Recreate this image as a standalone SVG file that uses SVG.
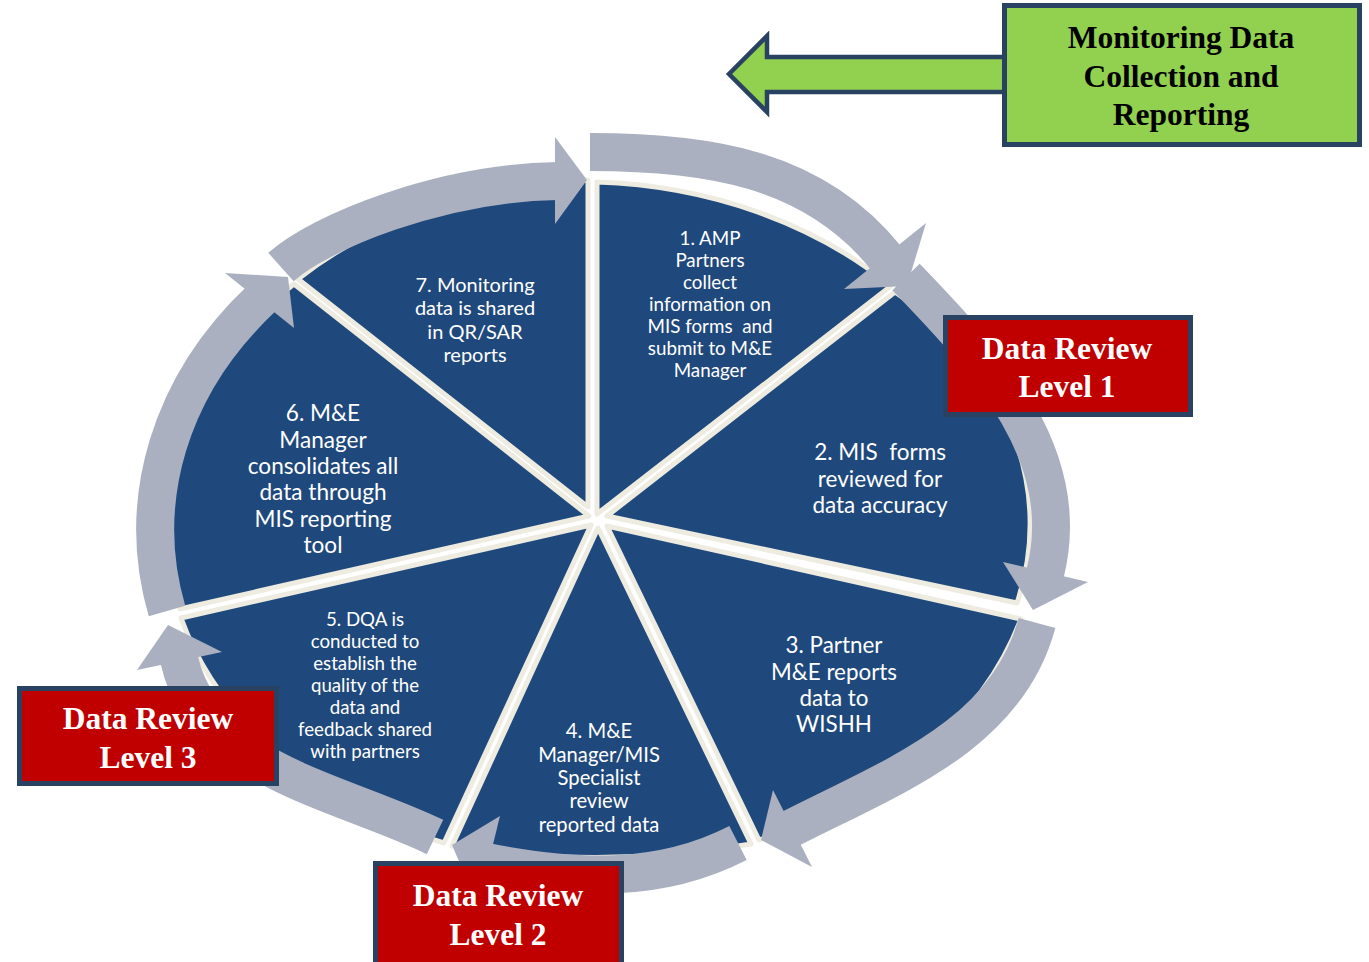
<svg xmlns="http://www.w3.org/2000/svg" width="1369" height="962" viewBox="0 0 1369 962">
<style>
.sec{fill:#1F497D;stroke:#EEECE1;stroke-width:5;stroke-linejoin:round}
.body{fill:none;stroke:#AAB0BF;stroke-width:38;stroke-linecap:butt}
.head{fill:#AAB0BF}
.st{font-family:Lato,"Open Sans",sans-serif;fill:#FFFFFF;text-anchor:middle}
.box{stroke:#2A4262;stroke-width:5}
.red{fill:#C00000}
.bt{font-family:"Liberation Serif","Times New Roman",serif;font-weight:bold;text-anchor:middle;font-size:31.5px}
</style>
<rect width="1369" height="962" fill="#FFFFFF"/>

<g id="sectors">
<path id="s1" class="sec" d="M597,514 L597,182 A432,340 0 0 1 891,286 Z"/>
<path id="s2" class="sec" d="M607,516 L895,292 A370,300 0 0 1 1017,603 Z"/>
<path id="s3" class="sec" d="M607,526 L1021,619 A432,340 0 0 1 759,840 Z"/>
<path id="s4" class="sec" d="M598,528 L751,844 A560,340 0 0 1 452,846 Z"/>
<path id="s5" class="sec" d="M591,525 L444,843 A432,340 0 0 1 181,618 Z"/>
<path id="s6" class="sec" d="M589,516 L180,609 A420,335 0 0 1 294,284 Z"/>
<path id="s7" class="sec" d="M588,507 L298,279 A432,340 0 0 1 588,180 Z"/>
</g>

<g id="connectors">
<path class="body" d="M281,267 C320,232 440,183 557,181"/>
<polygon class="head" points="555,137 587,180 555,224"/>
<path class="body" d="M590,152 C705,152 813,167 886,258"/>
<polygon class="head" points="844,289 926,223 907,286"/>
<path class="body" d="M906,277 C989,363 1075,456 1045,574"/>
<polygon class="head" points="1003,562 1088,582 1033,610"/>
<path class="body" d="M1037,623 C1007,735 894,776 790,829"/>
<polygon class="head" points="773,790 812,867 761,840"/>
<path class="body" d="M738,843 C658,884 576,879 486,862"/>
<polygon class="head" points="500,816 478,905 452,845"/>
<path class="body" d="M435,837 C335,789 204,771 179,659"/>
<polygon class="head" points="137,670 222,652 168,625"/>
<path class="body" d="M167,611 A440,355 0 0 1 262,298"/>
<polygon class="head" points="225,273 294,328 288,277"/>
</g>

<g id="labels">
<text class="st" font-size="18.8" xml:space="preserve"><tspan x="710" y="245">1. AMP</tspan><tspan x="710" y="267">Partners</tspan><tspan x="710" y="289">collect</tspan><tspan x="710" y="311">information on</tspan><tspan x="710" y="333">MIS forms  and</tspan><tspan x="710" y="355">submit to M&amp;E</tspan><tspan x="710" y="377">Manager</tspan></text>
<text class="st" font-size="22.5" xml:space="preserve"><tspan x="880" y="460">2. MIS  forms</tspan><tspan x="880" y="487">reviewed for</tspan><tspan x="880" y="513">data accuracy</tspan></text>
<text class="st" font-size="22.4"><tspan x="834" y="653">3. Partner</tspan><tspan x="834" y="680">M&amp;E reports</tspan><tspan x="834" y="706">data to</tspan><tspan x="834" y="732">WISHH</tspan></text>
<text class="st" font-size="20.2"><tspan x="599" y="738">4. M&amp;E</tspan><tspan x="599" y="762">Manager/MIS</tspan><tspan x="599" y="785">Specialist</tspan><tspan x="599" y="808">review</tspan><tspan x="599" y="832">reported data</tspan></text>
<text class="st" font-size="18.7"><tspan x="365" y="626">5. DQA is</tspan><tspan x="365" y="648">conducted to</tspan><tspan x="365" y="670">establish the</tspan><tspan x="365" y="692">quality of the</tspan><tspan x="365" y="714">data and</tspan><tspan x="365" y="736">feedback shared</tspan><tspan x="365" y="758">with partners</tspan></text>
<text class="st" font-size="22.6"><tspan x="323" y="421">6. M&amp;E</tspan><tspan x="323" y="448">Manager</tspan><tspan x="323" y="474">consolidates all</tspan><tspan x="323" y="500">data through</tspan><tspan x="323" y="527">MIS reporting</tspan><tspan x="323" y="553">tool</tspan></text>
<text class="st" font-size="20"><tspan x="475" y="292">7. Monitoring</tspan><tspan x="475" y="315">data is shared</tspan><tspan x="475" y="339">in QR/SAR</tspan><tspan x="475" y="362">reports</tspan></text>
</g>

<g id="level1">
<rect class="box red" x="945.5" y="317.5" width="245" height="97"/>
<text class="bt" fill="#FFFFFF"><tspan x="1067" y="359">Data Review</tspan><tspan x="1067" y="397">Level 1</tspan></text>
</g>
<g id="level3">
<rect class="box red" x="19.5" y="688.5" width="257" height="95"/>
<text class="bt" fill="#FFFFFF"><tspan x="148" y="729">Data Review</tspan><tspan x="148" y="768">Level 3</tspan></text>
</g>
<g id="level2">
<rect class="box red" x="375.5" y="863.5" width="246" height="105"/>
<text class="bt" fill="#FFFFFF"><tspan x="498" y="906">Data Review</tspan><tspan x="498" y="945">Level 2</tspan></text>
</g>

<g id="monitoring">
<polygon points="729,74 767,36 767,57 1006,57 1006,92 767,92 767,112" fill="#92D050" stroke="#2A4262" stroke-width="4.5" stroke-linejoin="miter"/>
<rect class="box" fill="#92D050" x="1004.5" y="5.5" width="355" height="139"/>
<text class="bt" fill="#000000"><tspan x="1181" y="48">Monitoring Data</tspan><tspan x="1181" y="87">Collection and</tspan><tspan x="1181" y="125">Reporting</tspan></text>
</g>
</svg>
